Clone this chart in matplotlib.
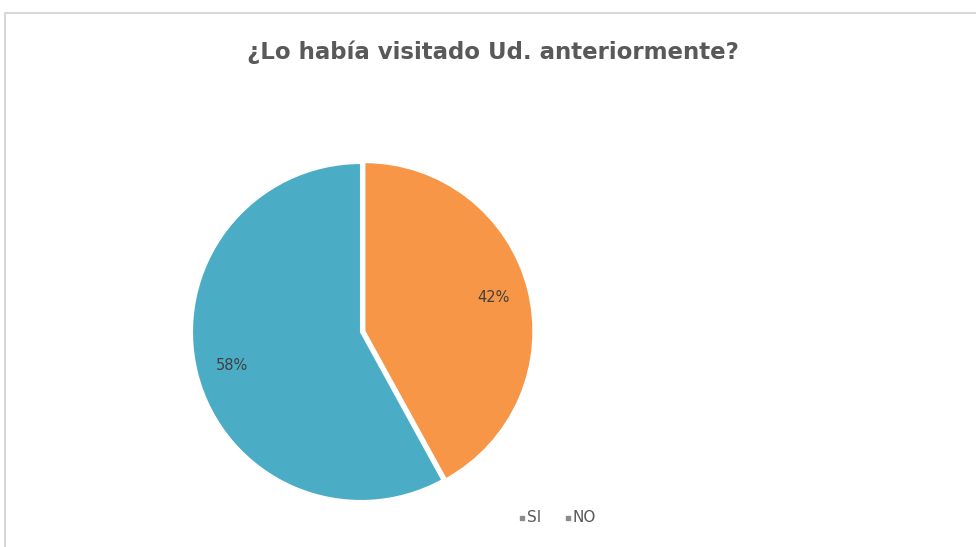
import matplotlib.pyplot as plt
from matplotlib.patches import Rectangle

# Chart data
labels = ['SI', 'NO']
values = [42, 58]
colors = ['#F79646', '#4BACC6']
title = '¿Lo había visitado Ud. anteriormente?'

W, H = 976, 547
fig = plt.figure(figsize=(W / 100, H / 100), dpi=100)
ax = fig.add_axes([0, 0, 1, 1])
ax.set_xlim(0, W)
ax.set_ylim(0, H)
ax.set_aspect('equal')
ax.axis('off')

# chart frame
ax.add_patch(Rectangle((5, -5), W + 10, H - 13 + 5, fill=False,
                       edgecolor='#D0D0D0', linewidth=1.2))

# explode is in data units here (pixels)
wedges, texts, autotexts = ax.pie(
    values, colors=colors, startangle=90, counterclock=False,
    center=(361, H - 332), radius=169, explode=[3.5, 0],
    autopct='%1.0f%%', pctdistance=0.79,
    wedgeprops=dict(edgecolor='white', linewidth=1.5),
    textprops=dict(color='#404040', fontsize=10.5),
    frame=True)
ax.set_xlim(0, W)
ax.set_ylim(0, H)
ax.axis('off')

ax.text(493, H - 52, title, ha='center', va='center', fontsize=16.5,
        fontweight='bold', color='#595959')

# legend
leg_y = H - 518
for x, lab in [(522, labels[0]), (568, labels[1])]:
    ax.plot(x, leg_y, marker='s', markersize=3, color='#8C8C8C',
            linestyle='none')
    ax.text(x + 5, leg_y, lab, ha='left', va='center', fontsize=11,
            color='#595959')

fig.savefig('out.png', dpi=100)
